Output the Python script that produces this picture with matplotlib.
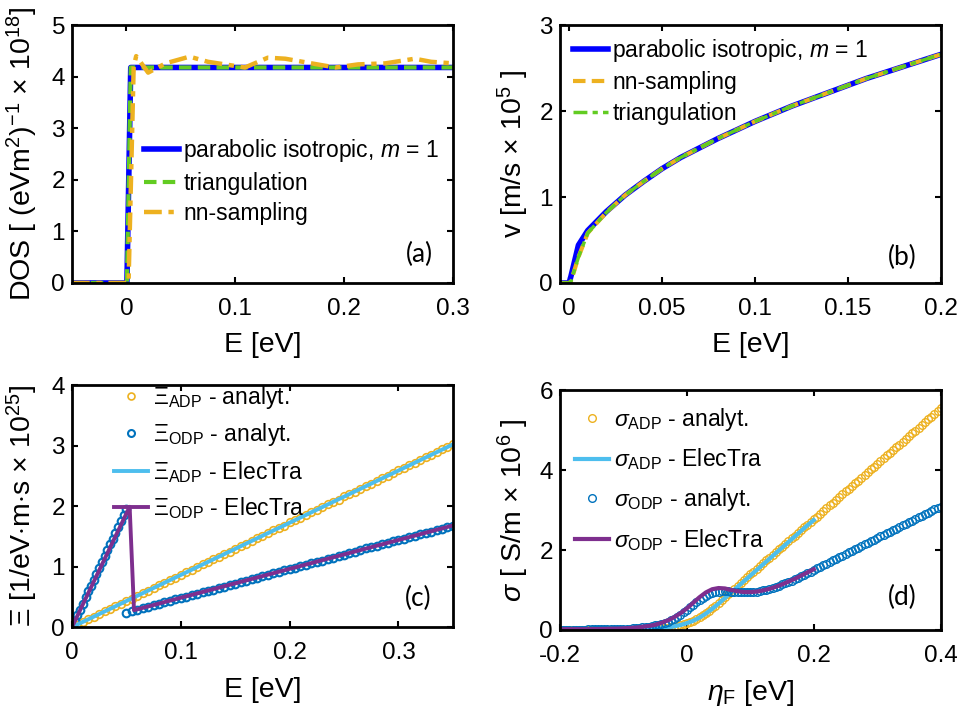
import matplotlib.pyplot as plt
import numpy as np

plt.rcParams['font.family'] = ['Liberation Sans', 'DejaVu Sans']
plt.rcParams['mathtext.fontset'] = 'custom'
plt.rcParams['mathtext.rm'] = 'Liberation Sans'
plt.rcParams['mathtext.it'] = 'Liberation Sans:italic'
plt.rcParams['mathtext.bf'] = 'Liberation Sans:bold'

# colours (MATLAB defaults)
BLUE = '#0000FF'
GREEN = '#62CC22'
ORANGE = '#EDB120'
CYAN = '#4DBEEE'
PURPLE = '#7E2F8E'
MBLUE = '#0072BD'

# ---------------- (a) DOS ----------------
dos_e = [-0.05, 0.0005, 0.004, 0.3]
dos_parabolic = [0, 0, 4.18, 4.18]
dos_tri = [0, 0, 4.18, 4.18]
dos_nn_e = [-0.05, 0.002, 0.0067, 0.009, 0.020, 0.036, 0.058, 0.075, 0.109, 0.13,
            0.146, 0.17, 0.192, 0.213, 0.238, 0.265, 0.28, 0.3]
dos_nn = [0, 0, 4.19, 4.40, 4.08, 4.26, 4.39, 4.29, 4.18, 4.37,
          4.35, 4.26, 4.18, 4.24, 4.26, 4.35, 4.29, 4.26]

# ---------------- (b) velocity ----------------
v_e = [-0.005, 0, 0.001, 0.005, 0.01, 0.02, 0.03, 0.04, 0.05, 0.06, 0.08, 0.1,
       0.12, 0.14, 0.16, 0.18, 0.2]
v_parabolic = [0, 0, 0.08, 0.44, 0.61, 0.83, 1.02, 1.18, 1.33, 1.46, 1.68, 1.88,
               2.06, 2.22, 2.38, 2.52, 2.66]
v_nn = [0, 0, 0.02, 0.30, 0.58, 0.82, 1.02, 1.18, 1.33, 1.46, 1.68, 1.88,
        2.06, 2.22, 2.38, 2.52, 2.66]
v_tri = [0, 0, 0.02, 0.30, 0.58, 0.82, 1.02, 1.18, 1.33, 1.46, 1.68, 1.88,
         2.06, 2.22, 2.38, 2.52, 2.66]

# ---------------- (c) scattering rates ----------------
xi_e = np.round(np.arange(71) * 0.005, 4)
xi_adp = [0.00, 0.04, 0.09, 0.13, 0.17, 0.22, 0.26, 0.30, 0.35, 0.39,
          0.43, 0.47, 0.52, 0.56, 0.60, 0.65, 0.69, 0.73, 0.78, 0.82,
          0.86, 0.91, 0.95, 0.99, 1.04, 1.08, 1.12, 1.16, 1.21, 1.25,
          1.29, 1.34, 1.38, 1.42, 1.47, 1.51, 1.55, 1.60, 1.64, 1.68,
          1.73, 1.77, 1.81, 1.86, 1.90, 1.94, 1.99, 2.03, 2.07, 2.11,
          2.16, 2.20, 2.24, 2.29, 2.33, 2.37, 2.42, 2.46, 2.50, 2.55,
          2.59, 2.63, 2.68, 2.72, 2.76, 2.81, 2.85, 2.89, 2.94, 2.98,
          3.02]
xi_odp_e1 = np.round(np.arange(21) * 0.0025, 4)
xi_odp1 = [0.00, 0.10, 0.20, 0.29, 0.39, 0.49, 0.59, 0.68, 0.78, 0.88,
           0.98, 1.07, 1.17, 1.27, 1.37, 1.46, 1.56, 1.66, 1.76, 1.85, 1.95]
xi_odp_e2 = np.round(0.05 + np.arange(61) * 0.005, 4)
xi_odp2 = [0.24, 0.26, 0.29, 0.31, 0.34, 0.36, 0.38, 0.41, 0.43, 0.46,
           0.48, 0.50, 0.53, 0.55, 0.58, 0.60, 0.62, 0.65, 0.67, 0.70,
           0.72, 0.74, 0.77, 0.79, 0.82, 0.84, 0.86, 0.89, 0.91, 0.94,
           0.96, 0.98, 1.01, 1.03, 1.06, 1.08, 1.10, 1.13, 1.15, 1.18,
           1.20, 1.22, 1.25, 1.27, 1.30, 1.32, 1.34, 1.37, 1.39, 1.42,
           1.44, 1.46, 1.49, 1.51, 1.54, 1.56, 1.58, 1.61, 1.63, 1.66,
           1.68]
xi_adp_et_e = [0, 0.35]
xi_adp_et = [0, 3.02]
xi_odp_et_e = [0, 0.053, 0.057, 0.35]
xi_odp_et = [0, 1.99, 0.28, 1.68]

# ---------------- (d) conductivity ----------------
sig_e = np.round(-0.2 + np.arange(121) * 0.005, 4)
sig_adp = [0, 0, 0, 0, 0, 0, 0, 0, 0, 0,
           0, 0, 0, 0, 0, 0, 0, 0.001, 0.001, 0.002,
           0.002, 0.003, 0.004, 0.005, 0.006, 0.008, 0.010, 0.013, 0.016, 0.02,
           0.025, 0.031, 0.038, 0.047, 0.057, 0.069, 0.083, 0.10, 0.12, 0.14,
           0.165, 0.19, 0.23, 0.27, 0.32, 0.37, 0.42, 0.48, 0.54, 0.61,
           0.68, 0.75, 0.82, 0.89, 0.96, 1.03, 1.10, 1.18, 1.25, 1.32,
           1.39, 1.46, 1.53, 1.60, 1.67, 1.74, 1.81, 1.88, 1.95, 2.02,
           2.08, 2.15, 2.22, 2.29, 2.36, 2.43, 2.50, 2.57, 2.64, 2.70,
           2.77, 2.84, 2.91, 2.98, 3.05, 3.12, 3.19, 3.26, 3.33, 3.40,
           3.47, 3.54, 3.61, 3.67, 3.74, 3.81, 3.88, 3.95, 4.02, 4.09,
           4.16, 4.23, 4.30, 4.37, 4.44, 4.50, 4.57, 4.64, 4.71, 4.78,
           4.85, 4.92, 4.99, 5.06, 5.13, 5.20, 5.27, 5.34, 5.41, 5.48,
           5.55]
sig_odp = [0.01, 0.01, 0.01, 0.01, 0.01, 0.01, 0.01, 0.012, 0.012, 0.013,
           0.014, 0.015, 0.016, 0.017, 0.018, 0.02, 0.021, 0.023, 0.025, 0.027,
           0.03, 0.033, 0.037, 0.042, 0.048, 0.055, 0.063, 0.073, 0.085, 0.10,
           0.115, 0.135, 0.155, 0.18, 0.205, 0.24, 0.28, 0.33, 0.38, 0.44,
           0.50, 0.565, 0.63, 0.69, 0.75, 0.80, 0.85, 0.89, 0.92, 0.945,
           0.96, 0.968, 0.97, 0.968, 0.962, 0.956, 0.95, 0.945, 0.942, 0.942,
           0.945, 0.95, 0.96, 0.975, 0.99, 1.01, 1.03, 1.055, 1.08, 1.11,
           1.14, 1.17, 1.20, 1.235, 1.27, 1.305, 1.34, 1.38, 1.42, 1.46,
           1.50, 1.54, 1.58, 1.62, 1.66, 1.70, 1.74, 1.78, 1.82, 1.86,
           1.90, 1.94, 1.98, 2.02, 2.06, 2.10, 2.14, 2.18, 2.22, 2.26,
           2.30, 2.34, 2.38, 2.42, 2.46, 2.50, 2.54, 2.58, 2.62, 2.66,
           2.70, 2.74, 2.78, 2.82, 2.86, 2.90, 2.94, 2.98, 3.02, 3.05,
           3.08]
sig_et_e = np.round(-0.2 + np.arange(41) * 0.01, 3)
sig_adp_et = [0, 0, 0, 0, 0, 0, 0, 0, 0, 0.001,
              0.003, 0.005, 0.008, 0.013, 0.02, 0.03, 0.045, 0.065, 0.09, 0.125,
              0.17, 0.23, 0.31, 0.41, 0.53, 0.66, 0.80, 0.94, 1.08, 1.22,
              1.36, 1.50, 1.64, 1.78, 1.92, 2.06, 2.20, 2.34, 2.48, 2.62,
              2.75]
sig_odp_et = [0.02, 0.02, 0.02, 0.02, 0.02, 0.022, 0.024, 0.026, 0.03, 0.034,
              0.04, 0.05, 0.06, 0.08, 0.10, 0.13, 0.18, 0.24, 0.32, 0.42,
              0.54, 0.68, 0.82, 0.94, 1.02, 1.05, 1.04, 1.0, 0.97, 0.95,
              0.95, 0.96, 0.99, 1.03, 1.08, 1.14, 1.21, 1.28, 1.36, 1.44,
              1.52]

# tick labels
a_xticks = [0, 0.1, 0.2, 0.3]
a_xlabels = ['0', '0.1', '0.2', '0.3']
b_xticks = [0, 0.05, 0.1, 0.15, 0.2]
b_xlabels = ['0', '0.05', '0.1', '0.15', '0.2']
c_xticks = [0, 0.1, 0.2, 0.3]
c_xlabels = ['0', '0.1', '0.2', '0.3']
d_xticks = [-0.2, 0, 0.2, 0.4]
d_xlabels = ['-0.2', '0', '0.2', '0.4']

FS = 17.5   # tick labels
LGS = 16.5  # legends
LFS = 20.5  # axis labels

fig = plt.figure(figsize=(9.57, 7.2), dpi=100)
ax_a = fig.add_axes([0.0752, 0.607, 0.398, 0.358])
ax_b = fig.add_axes([0.585, 0.607, 0.398, 0.358])
ax_c = fig.add_axes([0.0752, 0.129, 0.398, 0.336])
ax_d = fig.add_axes([0.585, 0.125, 0.398, 0.333])


def style(ax):
    for s in ax.spines.values():
        s.set_linewidth(2)
    ax.tick_params(direction='in', top=True, right=True, length=4, width=1.5,
                   labelsize=FS)
    ax.tick_params(axis='x', pad=11)
    ax.tick_params(axis='y', pad=5)


# (a)
ax_a.plot(dos_e, dos_parabolic, color=BLUE, lw=4, label='parabolic isotropic, $m$ = 1')
ax_a.plot(dos_e, dos_tri, color=GREEN, lw=3, ls=(0, (3, 1.5)), label='triangulation')
ax_a.plot(dos_nn_e, dos_nn, color=ORANGE, lw=3.2, ls=(0, (4, 1.5, 1.2, 1.5)), label='nn-sampling')
ax_a.set_xlim(-0.05, 0.3)
ax_a.set_ylim(0, 5)
ax_a.set_xticks(a_xticks)
ax_a.set_xticklabels(a_xlabels)
ax_a.set_yticks(range(6))
ax_a.set_xlabel('E [eV]', fontsize=LFS)
ax_a.set_ylabel('DOS [ (eVm$^2$)$^{-1}$ $\\times$ 10$^{18}$]', fontsize=LFS)
ax_a.legend(loc='upper left', bbox_to_anchor=(0.19, 0.565), frameon=False, fontsize=LGS,
            handlelength=1.5, handletextpad=0.2, labelspacing=0.33, borderpad=0, borderaxespad=0)
ax_a.text(0.913, 0.11, '(a)', transform=ax_a.transAxes, fontsize=19, family='Lato',
          ha='center', va='center')
style(ax_a)

# (b)
ax_b.plot(v_e, v_parabolic, color=BLUE, lw=4, label='parabolic isotropic, $m$ = 1')
ax_b.plot(v_e, v_nn, color=ORANGE, lw=3, ls=(0, (3, 1.5)), label='nn-sampling')
ax_b.plot(v_e, v_tri, color=GREEN, lw=2.5, ls=(0, (4, 1.5, 1.5, 1.5)), label='triangulation')
ax_b.set_xlim(-0.005, 0.2)
ax_b.set_ylim(0, 3)
ax_b.set_xticks(b_xticks)
ax_b.set_xticklabels(b_xlabels)
ax_b.set_yticks(range(4))
ax_b.set_xlabel('E [eV]', fontsize=LFS)
ax_b.set_ylabel('v [m/s $\\times$ 10$^5$ ]', fontsize=LFS)
ax_b.legend(loc='upper left', bbox_to_anchor=(0.035, 0.955), frameon=False, fontsize=LGS,
            handlelength=1.5, handletextpad=0.2, labelspacing=0.33, borderpad=0, borderaxespad=0)
ax_b.text(0.899, 0.097, '(b)', transform=ax_b.transAxes, fontsize=19, family='Lato',
          ha='center', va='center')
style(ax_b)

# (c)
ax_c.plot(xi_e, xi_adp, 'o', ms=5.5, mfc='none', mec=ORANGE, mew=1.2,
          label='$\\mathit{\\Xi}_{\\rm ADP}$ - analyt.')
ax_c.plot(np.concatenate([xi_odp_e1, xi_odp_e2]), xi_odp1 + xi_odp2, 'o', ms=5.5,
          mfc='none', mec=MBLUE, mew=1.5, label='$\\mathit{\\Xi}_{\\rm ODP}$ - analyt.')
ax_c.plot(xi_adp_et_e, xi_adp_et, color=CYAN, lw=2.8, label='$\\mathit{\\Xi}_{\\rm ADP}$ - ElecTra')
ax_c.plot(xi_odp_et_e, xi_odp_et, color=PURPLE, lw=2.8, label='$\\mathit{\\Xi}_{\\rm ODP}$ - ElecTra')
ax_c.set_xlim(0, 0.35)
ax_c.set_ylim(0, 4)
ax_c.set_xticks(c_xticks)
ax_c.set_xticklabels(c_xlabels)
ax_c.set_yticks(range(5))
ax_c.set_xlabel('E [eV]', fontsize=LFS)
ax_c.set_ylabel('$\\Xi$ [1/eV$\\cdot$m$\\cdot$s $\\times$ 10$^{25}$]', fontsize=LFS)
lg_c = ax_c.legend(loc='upper left', bbox_to_anchor=(0.11, 1.005), frameon=False, fontsize=LGS,
                   handlelength=1.5, handletextpad=0.2, labelspacing=0.45, borderpad=0,
                   borderaxespad=0)
lg_c.legend_handles[0].set_markersize(5)
lg_c.legend_handles[1].set_markersize(5)
ax_c.text(0.908, 0.12, '(c)', transform=ax_c.transAxes, fontsize=19, family='Lato',
          ha='center', va='center')
style(ax_c)

# (d)
ax_d.plot(sig_e, sig_adp, 'o', ms=5.5, mfc='none', mec=ORANGE, mew=1,
          label='$\\sigma_{\\rm ADP}$ - analyt.')
ax_d.plot(sig_et_e, sig_adp_et, color=CYAN, lw=3, label='$\\sigma_{\\rm ADP}$ - ElecTra')
ax_d.plot(sig_e, sig_odp, 'o', ms=5.5, mfc='none', mec=MBLUE, mew=1,
          label='$\\sigma_{\\rm ODP}$ - analyt.')
ax_d.plot(sig_et_e, sig_odp_et, color=PURPLE, lw=3, label='$\\sigma_{\\rm ODP}$ - ElecTra')
ax_d.set_xlim(-0.2, 0.4)
ax_d.set_ylim(0, 6)
ax_d.set_xticks(d_xticks)
ax_d.set_xticklabels(d_xlabels)
ax_d.set_yticks([0, 2, 4, 6])
ax_d.set_xlabel('$\\eta_{\\rm F}$ [eV]', fontsize=LFS)
ax_d.set_ylabel('$\\sigma$ [ S/m $\\times$ 10$^6$ ]', fontsize=LFS)
ax_d.legend(loc='upper left', bbox_to_anchor=(0.04, 0.935), frameon=False, fontsize=LGS,
            handlelength=1.5, handletextpad=0.2, labelspacing=0.6, borderpad=0, borderaxespad=0)
ax_d.text(0.9, 0.1375, '(d)', transform=ax_d.transAxes, fontsize=19, family='Lato',
          ha='center', va='center')
style(ax_d)

for ax in (ax_a, ax_c):
    ax.yaxis.set_label_coords(-0.085, 0.5)
for ax in (ax_b, ax_d):
    ax.yaxis.set_label_coords(-0.075, 0.5)
ax_a.xaxis.set_label_coords(0.5, -0.19)
ax_b.xaxis.set_label_coords(0.5, -0.19)
ax_c.xaxis.set_label_coords(0.5, -0.205)
ax_d.xaxis.set_label_coords(0.5, -0.2)

fig.savefig('out.png', dpi=100)
